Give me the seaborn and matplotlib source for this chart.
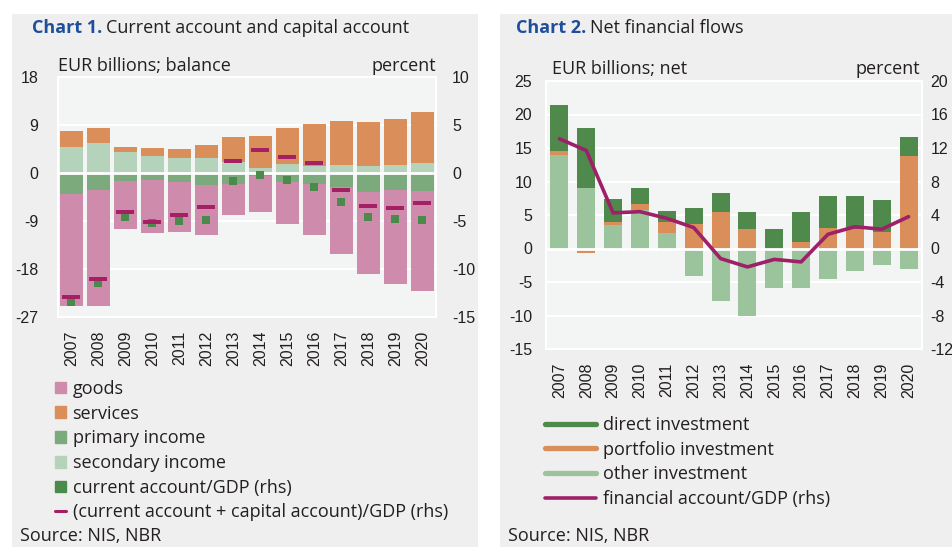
import numpy as np
import pandas as pd
import matplotlib
matplotlib.use("Agg")
import matplotlib.pyplot as plt
import seaborn as sns
from matplotlib.patches import Rectangle, Patch
from matplotlib.lines import Line2D

# -------------------------------
# data
# -------------------------------
years = [str(y) for y in range(2007, 2021)]

# chart 1, EUR billions
goods = [-21.0, -21.9, -9.0, -9.8, -9.4, -9.4, -5.9, -6.7, -8.0, -9.6, -12.65, -15.3, -17.7, -18.7]
services = [3.0, 2.8, 0.9, 1.45, 1.6, 2.5, 4.7, 6.0, 6.75, 7.85, 8.2, 8.3, 8.6, 9.5]
primary_income = [-3.9, -3.1, -1.5, -1.4, -1.6, -2.2, -2.0, -0.6, -1.6, -2.1, -2.6, -3.6, -3.1, -3.4]
secondary_income = [4.9, 5.6, 3.9, 3.25, 2.9, 2.75, 2.1, 1.0, 1.75, 1.4, 1.5, 1.3, 1.5, 1.9]
# chart 1, percent of GDP (rhs)
ca_gdp = [-13.4, -11.5, -4.6, -5.2, -5.0, -4.9, -0.8, -0.2, -0.7, -1.5, -3.0, -4.6, -4.8, -4.9]
ca_ka_gdp = [-12.9, -11.0, -4.1, -5.1, -4.4, -3.5, 1.2, 2.4, 1.7, 1.0, -1.8, -3.4, -3.6, -3.1]

# chart 2, EUR billions
direct_inv = [6.9, 9.0, 3.4, 2.3, 1.7, 2.5, 2.9, 2.6, 2.9, 4.5, 4.9, 4.9, 4.8, 2.9]
portfolio_inv = [0.5, -0.6, 0.45, 0.9, 1.6, 3.6, 5.4, 2.9, 0.0, 0.95, 3.0, 2.9, 2.4, 13.8]
other_inv = [14.0, 9.0, 3.5, 5.8, 2.3, -4.1, -7.9, -10.0, -5.9, -5.9, -4.5, -3.4, -2.5, -3.0]
# chart 2, percent of GDP (rhs)
fa_gdp = [13.1, 11.7, 4.25, 4.4, 3.6, 2.5, -1.2, -2.2, -1.3, -1.6, 1.7, 2.6, 2.3, 3.8]

# -------------------------------
# style
# -------------------------------
sns.set_theme(style="white")
plt.rcParams["font.family"] = ["Open Sans", "DejaVu Sans"]
TICK_FONT = ["Liberation Sans", "DejaVu Sans"]
TICK_FS = 11.5

PANEL = "#efefef"
PLOT_BG = "#f3f4f4"
C_GOODS = "#cf8bab"
C_SERV = "#da8f5b"
C_PRIM = "#7caa7d"
C_SEC = "#b5d3ba"
C_CA = "#4a8a4a"
C_MAG = "#a51f64"
C_DIR = "#4f894b"
C_OTH = "#9cc49c"
C_LINE = "#9e2068"
BLUE = "#1f4e9c"
TXT = "#231f20"

W, H = 953, 547
fig = plt.figure(figsize=(W / 100, H / 100), dpi=100)
fig.patch.set_facecolor("white")


def fx(px):
    return px / W


def fy(py):
    return 1 - py / H


# panel backgrounds (behind the axes)
fig.patches.append(Rectangle((fx(12), 0), fx(478 - 12), fy(14), transform=fig.transFigure,
                             facecolor=PANEL, edgecolor="none", zorder=-5))
fig.patches.append(Rectangle((fx(500), 0), fx(W - 500), fy(14), transform=fig.transFigure,
                             facecolor=PANEL, edgecolor="none", zorder=-5))


def stack_bottoms(*layers):
    """bottoms for stacking: positives go up from 0, negatives go down"""
    pos = np.zeros(len(layers[0]))
    neg = np.zeros(len(layers[0]))
    out = []
    for lay in layers:
        lay = np.asarray(lay, dtype=float)
        b = np.where(lay >= 0, pos, neg)
        out.append(b)
        pos = pos + np.where(lay >= 0, lay, 0)
        neg = neg + np.where(lay < 0, lay, 0)
    return out


def style_axes(ax, ax2, ylim, yticks, ylim2, yticks2, lpad, rpad):
    ax.set_facecolor(PLOT_BG)
    ax.set_xlim(-0.5, len(years) - 0.5)
    ax.set_ylim(*ylim)
    ax.set_yticks(yticks)
    ax.set_yticklabels([str(t) for t in yticks], family=TICK_FONT, fontsize=TICK_FS, color=TXT)
    ax.set_xticks(range(len(years)))
    ax.set_xticklabels(years, rotation=90, family=TICK_FONT, fontsize=TICK_FS, color=TXT)
    ax.tick_params(axis="y", length=0, pad=lpad)
    ax.tick_params(axis="x", length=0, pad=10)
    ax.set_xlabel("")
    ax.set_ylabel("")
    for t in yticks[1:-1]:
        ax.axhline(t, color="white", lw=1.5, zorder=0.5)
    for s in ax.spines.values():
        s.set_color("white")
        s.set_linewidth(1.5)
    ax2.set_ylim(*ylim2)
    ax2.set_yticks(yticks2)
    ax2.set_yticklabels([str(t) for t in yticks2], family=TICK_FONT, fontsize=TICK_FS, color=TXT)
    ax2.tick_params(axis="y", length=0, pad=rpad)
    ax2.set_ylabel("")
    for s in ax2.spines.values():
        s.set_visible(False)


def rect_marker(w, h):
    return [(-w, -h), (w, -h), (w, h), (-w, h), (-w, -h)]


# -------------------------------
# Chart 1
# -------------------------------
ax1 = fig.add_axes([fx(58), fy(317), fx(436 - 58), (317 - 77) / H])
df1 = pd.DataFrame({"year": years, "goods": goods, "services": services,
                    "primary": primary_income, "secondary": secondary_income})
b_sec, b_serv, b_prim, b_goods = stack_bottoms(secondary_income, services, primary_income, goods)
for col, bot, c in [("secondary", b_sec, C_SEC), ("services", b_serv, C_SERV),
                    ("primary", b_prim, C_PRIM), ("goods", b_goods, C_GOODS)]:
    sns.barplot(data=df1, x="year", y=col, ax=ax1, color=c, saturation=1,
                width=0.84, errorbar=None, bottom=bot, edgecolor="none", zorder=2)
ax1.axhline(0, color="white", lw=2, zorder=3)

ax1r = ax1.twinx()
xs = np.arange(len(years))
sns.scatterplot(x=xs, y=ca_gdp, ax=ax1r, marker="s", s=40, color=C_CA,
                linewidth=0, legend=False, zorder=4)
sns.scatterplot(x=xs, y=ca_ka_gdp, ax=ax1r, marker=rect_marker(4.4, 1), s=150,
                color=C_MAG, linewidth=0, legend=False, zorder=5)
style_axes(ax1, ax1r, (-27, 18), [-27, -18, -9, 0, 9, 18], (-15, 10),
           [-15, -10, -5, 0, 5, 10], lpad=14, rpad=11.5)
ax1.set_xlim(-0.5, len(years) - 0.5)

# -------------------------------
# Chart 2
# -------------------------------
ax2 = fig.add_axes([fx(546), fy(349), fx(922 - 546), (349 - 81) / H])
df2 = pd.DataFrame({"year": years, "direct": direct_inv, "portfolio": portfolio_inv,
                    "other": other_inv})
b_oth, b_port, b_dir = stack_bottoms(other_inv, portfolio_inv, direct_inv)
for col, bot, c in [("other", b_oth, C_OTH), ("portfolio", b_port, C_SERV),
                    ("direct", b_dir, C_DIR)]:
    sns.barplot(data=df2, x="year", y=col, ax=ax2, color=c, saturation=1,
                width=0.67, errorbar=None, bottom=bot, edgecolor="none", zorder=2)
ax2.axhline(0, color="white", lw=2, zorder=3)

ax2r = ax2.twinx()
sns.lineplot(x=xs, y=fa_gdp, ax=ax2r, color=C_LINE, lw=2.6, zorder=4)
style_axes(ax2, ax2r, (-15, 25), [-15, -10, -5, 0, 5, 10, 15, 20, 25], (-12, 20),
           [-12, -8, -4, 0, 4, 8, 12, 16, 20], lpad=10, rpad=6)
ax2.set_xlim(-0.5, len(years) - 0.5)

# -------------------------------
# titles, units, legends, sources
# -------------------------------
fs = 13
fig.canvas.draw()
rend = fig.canvas.get_renderer()
for x0, num, rest in [(32, "Chart 1.", "Current account and capital account"),
                      (516, "Chart 2.", "Net financial flows")]:
    t = fig.text(fx(x0), fy(28), num, fontsize=fs, fontweight="bold",
                 color=BLUE, va="center", ha="left")
    bb = t.get_window_extent(rend)
    fig.text(fx(bb.x1 + 4), fy(28), rest, fontsize=fs, color=TXT,
             va="center", ha="left")

fig.text(fx(58), fy(66), "EUR billions; balance", fontsize=fs, color=TXT, va="center")
fig.text(fx(436), fy(66), "percent", fontsize=fs, color=TXT, va="center", ha="right")
fig.text(fx(552), fy(69), "EUR billions; net", fontsize=fs, color=TXT, va="center")
fig.text(fx(920), fy(69), "percent", fontsize=fs, color=TXT, va="center", ha="right")

h1 = [Patch(color=C_GOODS), Patch(color=C_SERV), Patch(color=C_PRIM), Patch(color=C_SEC),
      Patch(color=C_CA), Line2D([], [], color=C_MAG, lw=2.2)]
l1 = ["goods", "services", "primary income", "secondary income",
      "current account/GDP (rhs)", "(current account + capital account)/GDP (rhs)"]
fig.legend(h1, l1, loc="upper left", bbox_to_anchor=(fx(55), fy(380)), frameon=False,
           fontsize=fs, labelspacing=0.37, handlelength=0.62, handleheight=0.62,
           handletextpad=0.35, borderpad=0, borderaxespad=0, labelcolor=TXT)

h2 = [Line2D([], [], color=C_DIR, lw=3.8), Line2D([], [], color=C_SERV, lw=3.8),
      Line2D([], [], color=C_OTH, lw=3.8), Line2D([], [], color=C_LINE, lw=2.6)]
l2 = ["direct investment", "portfolio investment", "other investment",
      "financial account/GDP (rhs)"]
fig.legend(h2, l2, loc="upper left", bbox_to_anchor=(fx(545), fy(416)), frameon=False,
           fontsize=fs, labelspacing=0.37, handlelength=2.85, handletextpad=0.35,
           borderpad=0, borderaxespad=0, labelcolor=TXT)

fig.text(fx(20), fy(536), "Source: NIS, NBR", fontsize=fs, color=TXT, va="center")
fig.text(fx(508), fy(536), "Source: NIS, NBR", fontsize=fs, color=TXT, va="center")

fig.savefig("out.png", dpi=100, facecolor="white")
